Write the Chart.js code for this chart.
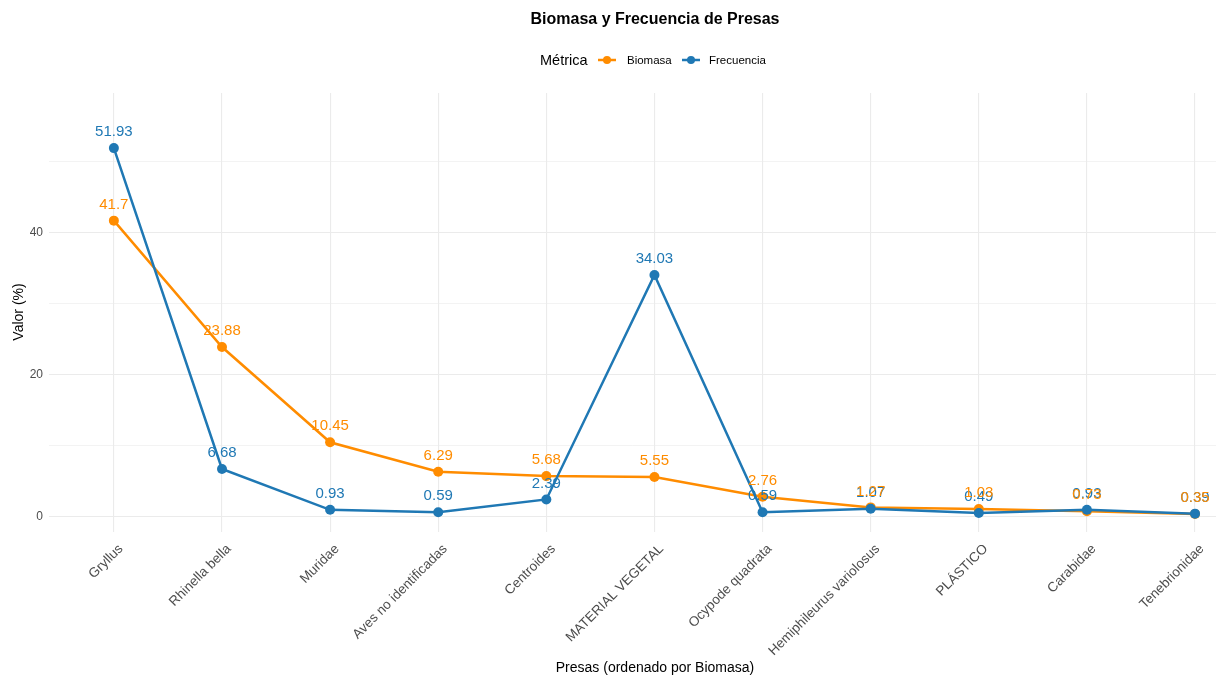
<!DOCTYPE html>
<html>
<head>
<meta charset="utf-8">
<script src="https://cdn.jsdelivr.net/npm/chart.js@4.4.0/dist/chart.umd.min.js"></script>
<style>
html,body{margin:0;padding:0;background:#fff;}
#wrap{position:relative;width:1221px;height:677px;}
</style>
</head>
<body>
<div id="wrap"><canvas id="c"></canvas></div>
<script>
const categories = ["Gryllus","Rhinella bella","Muridae","Aves no identificadas","Centroides","MATERIAL VEGETAL","Ocypode quadrata","Hemiphileurus variolosus","PLÁSTICO","Carabidae","Tenebrionidae"];
const biomasa = [41.7, 23.88, 10.45, 6.29, 5.68, 5.55, 2.76, 1.27, 1.03, 0.73, 0.35];
const frecuencia = [51.93, 6.68, 0.93, 0.59, 2.39, 34.03, 0.59, 1.07, 0.49, 0.93, 0.39];
const yTicks = [0, 10, 20, 30, 40, 50];
const yLabelTicks = [0, 20, 40];

const ORANGE = '#FF8C00';
const BLUE = '#1F78B4';
const FONT = '"Liberation Sans", Arial, Helvetica, sans-serif';

const labelsPlugin = {
  id: 'valueLabels',
  afterDatasetsDraw(chart) {
    const ctx = chart.ctx;
    ctx.save();
    ctx.font = '15px ' + FONT;
    ctx.textAlign = 'center';
    ctx.textBaseline = 'middle';
    [1, 0].forEach(di => {
      const ds = chart.data.datasets[di];
      const meta = chart.getDatasetMeta(di);
      ctx.fillStyle = ds.borderColor;
      meta.data.forEach((pt, i) => {
        ctx.fillText(String(ds.data[i].y), pt.x, pt.y - 16);
      });
    });
    ctx.restore();
  }
};

const decorPlugin = {
  id: 'decor',
  afterDraw(chart) {
    const ctx = chart.ctx;
    ctx.save();
    ctx.fillStyle = '#000';
    ctx.textAlign = 'center';
    ctx.textBaseline = 'middle';
    ctx.font = 'bold 16px ' + FONT;
    ctx.fillText('Biomasa y Frecuencia de Presas', 655, 20);
    ctx.textAlign = 'left';
    ctx.font = '14.5px ' + FONT;
    ctx.fillStyle = '#000';
    ctx.fillText('Métrica', 540, 61);
    const items = [
      {x: 598, color: ORANGE, text: 'Biomasa', tx: 627},
      {x: 682, color: BLUE, text: 'Frecuencia', tx: 709}
    ];
    items.forEach(it => {
      ctx.strokeStyle = it.color;
      ctx.lineWidth = 2.5;
      ctx.beginPath();
      ctx.moveTo(it.x, 60);
      ctx.lineTo(it.x + 18, 60);
      ctx.stroke();
      ctx.fillStyle = it.color;
      ctx.beginPath();
      ctx.arc(it.x + 9, 60, 4, 0, Math.PI * 2);
      ctx.fill();
      ctx.fillStyle = '#000';
      ctx.font = '11.5px ' + FONT;
      ctx.fillText(it.text, it.tx, 61);
    });
    ctx.textAlign = 'center';
    ctx.font = '14px ' + FONT;
    ctx.fillStyle = '#000';
    ctx.fillText('Presas (ordenado por Biomasa)', 655, 668);
    ctx.translate(19, 312);
    ctx.rotate(-Math.PI / 2);
    ctx.fillText('Valor (%)', 0, 0);
    ctx.restore();
  }
};

const toPoints = arr => arr.map((v, i) => ({x: i, y: v}));

new Chart(document.getElementById('c'), {
  type: 'line',
  data: {
    datasets: [
      {label: 'Biomasa', data: toPoints(biomasa), borderColor: ORANGE, backgroundColor: ORANGE,
       borderWidth: 2.5, pointRadius: 5, pointHoverRadius: 5, pointBorderWidth: 0, tension: 0, order: 2},
      {label: 'Frecuencia', data: toPoints(frecuencia), borderColor: BLUE, backgroundColor: BLUE,
       borderWidth: 2.5, pointRadius: 5, pointHoverRadius: 5, pointBorderWidth: 0, tension: 0, order: 1}
    ]
  },
  options: {
    responsive: true,
    maintainAspectRatio: false,
    animation: false,
    events: [],
    layout: {padding: {top: 93, left: 0, right: 0, bottom: 0}},
    plugins: {legend: {display: false}, title: {display: false}, tooltip: {enabled: false}},
    scales: {
      x: {
        type: 'linear',
        min: -0.6,
        max: 10.194,
        afterBuildTicks(scale) { scale.ticks = categories.map((_, i) => ({value: i})); },
        afterFit(scale) { scale.height = 145; },
        border: {display: false},
        grid: {color: '#EBEBEB', lineWidth: 1.1, drawTicks: false},
        ticks: {
          autoSkip: false,
          minRotation: 45,
          maxRotation: 45,
          padding: 9,
          labelOffset: 7,
          color: '#4D4D4D',
          font: {family: FONT, size: 13.5},
          callback: v => categories[v]
        }
      },
      y: {
        type: 'linear',
        min: -2.2,
        max: 59.7,
        afterBuildTicks(scale) { scale.ticks = yTicks.map(v => ({value: v})); },
        afterFit(scale) { scale.width = 49; },
        border: {display: false},
        grid: {
          drawTicks: false,
          color: '#EBEBEB',
          lineWidth: c => (c.tick && yLabelTicks.includes(c.tick.value)) ? 1.1 : 0.6
        },
        ticks: {
          padding: 6,
          color: '#4D4D4D',
          font: {family: FONT, size: 12},
          callback: v => yLabelTicks.includes(v) ? String(v) : ''
        }
      }
    }
  },
  plugins: [labelsPlugin, decorPlugin]
});
</script>
</body>
</html>
